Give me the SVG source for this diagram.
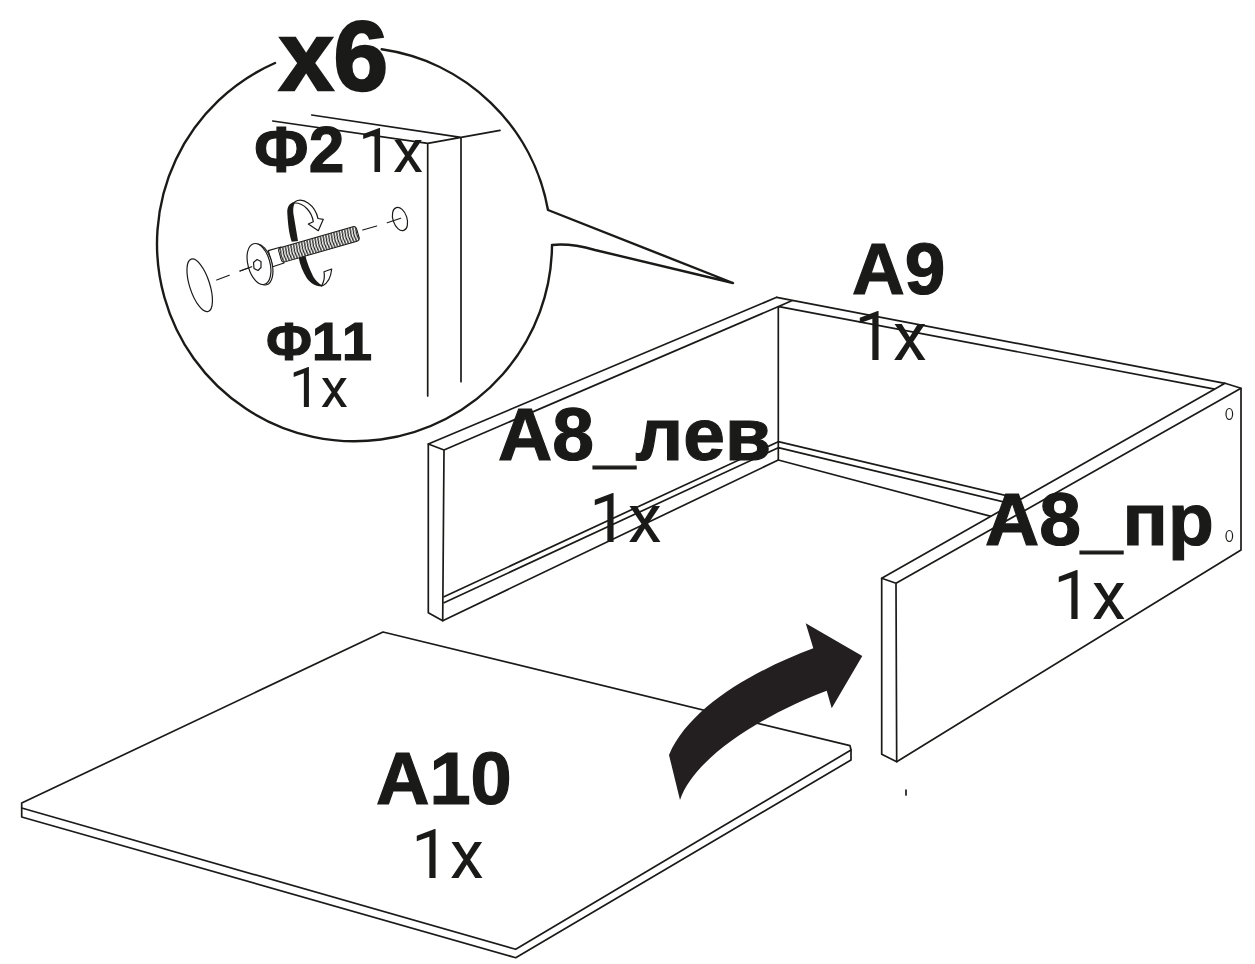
<svg xmlns="http://www.w3.org/2000/svg" width="1255" height="964" viewBox="0 0 1255 964">
<style>
.l{fill:none;stroke:#1a1a18;stroke-width:1.7;stroke-linejoin:round;stroke-linecap:round}
.p{fill:#fff;stroke:#1a1a18;stroke-width:1.7;stroke-linejoin:round}
.t{stroke-width:1.2}
.b{font-family:"Liberation Sans",Arial,sans-serif;font-weight:700;fill:#1a1a18;stroke:#1a1a18;stroke-width:1.2;font-kerning:none}
.q{font-family:Roboto,"Liberation Sans",sans-serif;font-weight:400;fill:#1a1a18}
</style>
<defs>
<pattern id="thread" width="2.8" height="16" patternUnits="userSpaceOnUse">
<rect width="2.8" height="16" fill="#fff"/>
<path d="M1 0Q3 8 1 16" fill="none" stroke="#1a1a18" stroke-width="1.3"/>
</pattern>
</defs>
<rect width="1255" height="964" fill="#fff"/>

<g id="panel-A10">
<path class="p" d="M21.7 803L383 632L850 745.7L851 750L851 760L515.7 957.7L21.7 817V808Z"/>
<path class="l" d="M21.7 808L515.7 949.3L851 750"/>
</g>

<g id="panel-A9">
<path class="l" d="M776.7 297.3L1225 383.3M779 306.7L1216 389.3L1225 383.3M791.7 300.7L778 306.7M778.3 306.7V460M778.3 441.7L1021 499M778.3 447.7L1021 506M778.3 460L991 516.4"/>
</g>

<g id="panel-A8-lev">
<path class="l" d="M428.3 444L776.7 297.3M444 450L778 306.7"/>
<path class="p" d="M428.3 444L444 450L442.7 620.7L428.3 612.7Z"/>
<path class="l" d="M442.7 620.7L778.3 460M444 596.7L778.3 441.7M444 602.7L778.3 447.7"/>
</g>

<g id="panel-A8-pr">
<path class="p" d="M881.7 578.3L1225 383.3L1241 388.3V550L896.7 761.7L881.7 754.3Z"/>
<path class="l" d="M881.7 578.3L896 583.3L1241 388.3M896 583.3L896.7 761.7"/>
<ellipse class="l t" cx="1229.3" cy="414" rx="3.3" ry="5.5"/>
<ellipse class="l t" cx="1229.3" cy="536" rx="3.3" ry="5.5"/>
<path class="l" d="M906 790V795"/>
</g>

<g id="connectors">
<path id="motion-arrow" fill="#231f20" d="M862.3 656L805.7 623.3L813.3 648.3C760 668 690 705 669 755L680 800C695 755 770 712 826.7 690.7L831.7 708.3Z"/>
</g>

<g id="detail-callout">
<path fill="none" stroke="#1a1a18" stroke-width="2.4" stroke-linecap="round" stroke-linejoin="round" d="M381.7 49.3A197.5 197.5 0 0 1 548 210L733 283L595 250Q570 243 552 245A197.5 197.5 0 1 1 275 63"/>
<path class="l" d="M272.7 121L427.7 143.3L500 130.3M311.7 115L461 137.3M427.7 143.3V396M461 137.3V381.7"/>
</g>

<g id="screw">
<ellipse class="l t" cx="199.7" cy="285.3" rx="10" ry="27.5" transform="rotate(-18 199.7 285.3)"/>
<ellipse class="l t" cx="400" cy="219" rx="7" ry="12" transform="rotate(-18 400 219)"/>
<path class="l t" d="M216.7 280L229.3 275.3M240 271L251.7 266.7M362.7 230L376.7 226M387.3 222.7L400.7 218.3"/>
<path fill="#1a1a18" d="M295 201.7C289 203 287 207 287.3 213C288 225 289 233 291.7 241.7L298 241L293.3 213C293 208 293.5 205 295 203Z"/>
<path fill="#1a1a18" d="M298.3 256C300 265 303 272 306.7 278C310 283 315 286 321.7 286.5L322.7 285.7C318 283 315.5 280 313.3 276.7C310 270 307 263 305 254Z"/>
<path class="l t" fill="#fff" d="M295 201.7C303 197 315 205 318 218.5L323.3 219.3L318.3 230.7L308.3 224L313.3 221.7C312 212 304 203 295 203"/>
<path class="l t" d="M322.7 285.7C328 283 331 276 331.7 269L324 271.7C325 277 324 282 321.5 286"/>
<path class="p t" d="M268.3 250.7L281 247L284 263L272.7 266.7Z"/>
<g transform="rotate(-16 280 255.5)">
<rect x="280" y="248" width="81" height="15" rx="3" fill="url(#thread)" stroke="#1a1a18" stroke-width="1"/>
</g>
<ellipse class="p t" cx="261" cy="264.5" rx="11" ry="21" transform="rotate(-15 261 264.5)"/>
<ellipse class="p t" cx="259" cy="264" rx="11" ry="21" transform="rotate(-15 259 264)"/>
<path class="l t" d="M257 259.5L261 261.5V267.5L258 270.5L254 268.5L253.5 262.5Z"/>
<path class="l t" d="M240 271L251.7 266.7"/>
</g>

<g id="labels">
<text class="b" x="279" y="90" font-size="98" style="stroke-width:2.5">x6</text>
<text class="b" x="254" y="172" font-size="64">Ф2</text>
<text class="q" x="358" y="172" font-size="62">1x</text>
<text class="b" x="266" y="360" font-size="54">Ф11</text>
<text class="q" x="289" y="407" font-size="56">1x</text>
<text class="b" x="852" y="294" font-size="73">A9</text>
<text class="q" x="854" y="360" font-size="69">1x</text>
<text class="b" x="498" y="460" font-size="75">A8_лев</text>
<text class="q" x="589" y="542" font-size="69">1x</text>
<text class="b" x="985" y="545" font-size="75">A8_пр</text>
<text class="q" x="1053" y="619" font-size="69">1x</text>
<text class="b" x="376" y="804" font-size="74">A10</text>
<text class="q" x="411" y="878" font-size="69">1x</text>
</g>
</svg>
